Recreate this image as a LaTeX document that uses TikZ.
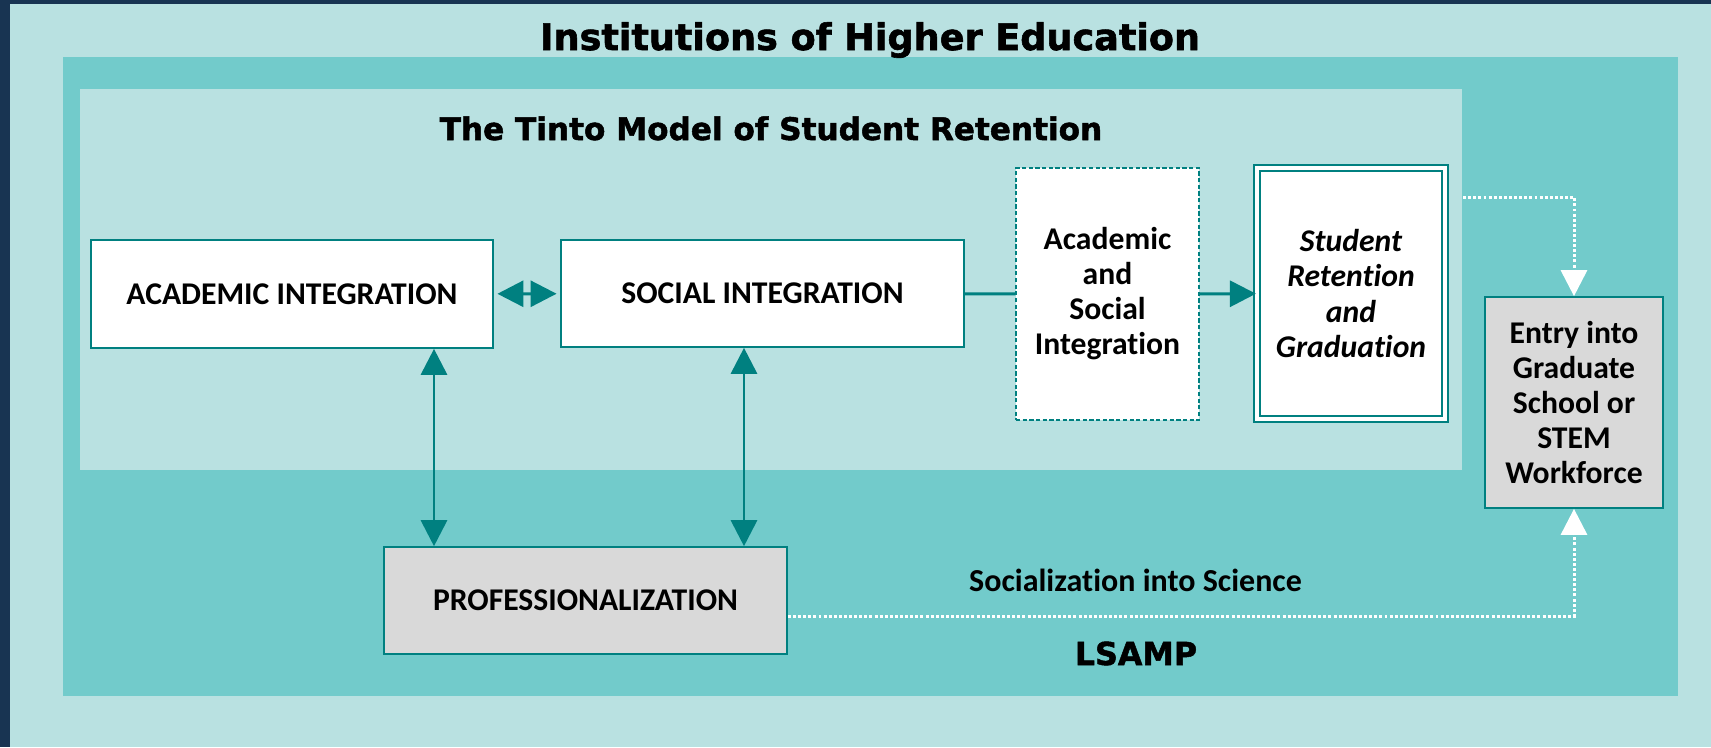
\documentclass[tikz,border=0pt]{standalone}
\usepackage{fontspec}
\setmainfont{Carlito}[Ligatures=NoCommon]
\newfontfamily\headfont{DejaVu Sans}[BoldFeatures={FakeBold=1.6}]
\usetikzlibrary{arrows.meta,positioning}
\definecolor{navy}{RGB}{24,52,82}
\definecolor{paleteal}{RGB}{185,225,225}
\definecolor{midteal}{RGB}{114,203,203}
\definecolor{darkteal}{RGB}{0,128,128}
\definecolor{boxgray}{RGB}{217,217,217}

\begin{document}
\begin{tikzpicture}[x=0.01cm, y=-0.01cm,
	box/.style={draw=darkteal, line width=0.45pt, fill=white, inner sep=0pt, align=center,
		font=\bfseries\fontsize{9}{9.96}\selectfont},
	graybox/.style={box, fill=boxgray},
	heading/.style={anchor=base, inner sep=0pt, font=\headfont\bfseries\fontsize{10.4}{12}\selectfont},
	tarrow/.style={draw=darkteal, line width=0.85pt, arrows={-Triangle[length=7.4pt, width=7.4pt]}},
	wdot/.style={draw=white, line width=0.85pt, dash pattern=on 0.85pt off 0.6pt,
		arrows={-Triangle[length=7.4pt, width=7.4pt, fill=white]}}]
	\useasboundingbox (0,0) rectangle (1711,747);
	% frames
	\fill[navy] (0,0) rectangle (1711,747);
	\fill[paleteal] (10,4) rectangle (1711,747);
	\fill[midteal] (63,57) rectangle (1678,696);
	\node[fill=paleteal, inner sep=0pt, minimum width=13.82cm, minimum height=3.81cm] (tinto) at (771,279.5) {};

	\node[heading] (ihe) at (870,50) {Institutions of Higher Education};
	\node[heading, font=\headfont\bfseries\fontsize{8.85}{11}\selectfont] (tintotitle) at (771,140) {The Tinto Model of Student Retention};
	\node[heading, font=\headfont\bfseries\fontsize{9}{11}\selectfont] (lsamp) at (1136,665) {LSAMP};

	% boxes
	\node[box, minimum width=4.02cm, minimum height=1.08cm] (acad) at (292,294) {ACADEMIC INTEGRATION};
	\node[box, minimum width=4.03cm, minimum height=1.07cm] (soc) at (762.5,293.5) {SOCIAL INTEGRATION};
	\node[box, line width=0.35pt, dash pattern=on 1.2pt off 0.7pt, minimum width=1.83cm, minimum height=2.52cm] (both) at (1107.5,294) {Academic\\and\\Social\\Integration};
	\node[box, double=white, line width=0.57pt, double distance=1.14pt, minimum width=1.88cm, minimum height=2.51cm,
		font=\bfseries\itshape\fontsize{9}{9.96}\selectfont] (ret) at (1351,293.5) {Student\\Retention\\and\\Graduation};
	\node[graybox, minimum width=1.78cm, minimum height=2.11cm] (entry) at (1574,402.5) {Entry into\\Graduate\\School or\\STEM\\Workforce};
	\node[graybox, minimum width=4.03cm, minimum height=1.07cm] (prof) at (585.5,600.5) {PROFESSIONALIZATION};
	\node[anchor=base, inner sep=0pt, font=\bfseries\fontsize{9.1}{9.96}\selectfont] (socsci) at (1135.5,591) {Socialization into Science};

	% connectors
	\coordinate (xa) at (434,0);
	\coordinate (xs) at (744,0);
	\coordinate (yt) at (0,197);
	\coordinate (yb) at (0,616);
	\draw[tarrow, arrows={Triangle[length=7.4pt, width=7.4pt]-Triangle[length=7.4pt, width=7.4pt]}, shorten <=1pt, shorten >=1pt] (acad) -- (soc);
	\draw[tarrow, arrows={Triangle[length=7.4pt, width=7.4pt]-Triangle[length=7.4pt, width=7.4pt]}] (acad.south -| xa) -- (prof.north -| xa);
	\draw[tarrow, arrows={Triangle[length=7.4pt, width=7.4pt]-Triangle[length=7.4pt, width=7.4pt]}] (soc.south -| xs) -- (prof.north -| xs);
	\draw[darkteal, line width=0.85pt] (soc) -- (both);
	\draw[tarrow] (both) -- (ret);
	\draw[wdot] (tinto.east |- yt) -| (entry.north);
	\draw[wdot] (prof.east |- yb) -| (entry.south);
\end{tikzpicture}
\end{document}
